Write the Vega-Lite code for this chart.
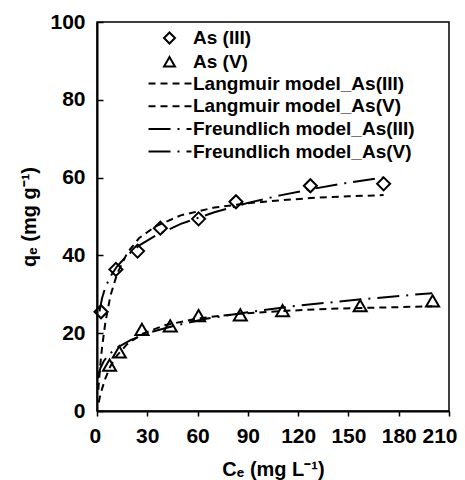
{
  "$schema": "https://vega.github.io/schema/vega-lite/v6.json",
  "width": 352,
  "height": 389,
  "autosize": "none",
  "padding": {"left": 97, "top": 22, "right": 16, "bottom": 69},
  "config": {
    "font": "Liberation Sans",
    "view": {"stroke": "#000", "strokeWidth": 1.5},
    "axis": {
      "grid": false,
      "domainColor": "#000",
      "domainWidth": 2,
      "tickColor": "#000",
      "tickWidth": 1.5,
      "labelFont": "Liberation Sans",
      "labelFontSize": 21,
      "labelFontWeight": "bold",
      "labelColor": "#000",
      "titleFont": "Liberation Sans",
      "titleFontSize": 20,
      "titleFontWeight": "bold",
      "titleColor": "#000"
    },
    "legend": {
      "labelFont": "Liberation Sans",
      "labelFontSize": 19,
      "labelFontWeight": "bold",
      "labelColor": "#000",
      "labelLimit": 400,
      "padding": 0
    }
  },
  "datasets": {
    "points": [
      {"C": 2.4, "q": 25.5, "species": "As (III)"},
      {"C": 11.3, "q": 36.4, "species": "As (III)"},
      {"C": 24.2, "q": 41.1, "species": "As (III)"},
      {"C": 37.8, "q": 47.0, "species": "As (III)"},
      {"C": 60.6, "q": 49.4, "species": "As (III)"},
      {"C": 82.9, "q": 53.8, "species": "As (III)"},
      {"C": 127.3, "q": 57.9, "species": "As (III)"},
      {"C": 171, "q": 58.4, "species": "As (III)"},
      {"C": 7.5, "q": 11.8, "species": "As (V)"},
      {"C": 13.3, "q": 15.2, "species": "As (V)"},
      {"C": 26.8, "q": 21.0, "species": "As (V)"},
      {"C": 43.7, "q": 21.9, "species": "As (V)"},
      {"C": 60.6, "q": 24.5, "species": "As (V)"},
      {"C": 85.5, "q": 24.7, "species": "As (V)"},
      {"C": 110.7, "q": 25.8, "species": "As (V)"},
      {"C": 157, "q": 27.1, "species": "As (V)"},
      {"C": 200.2, "q": 28.3, "species": "As (V)"}
    ],
    "curves": [
      {"C": 0.8, "q": 5.5, "model": "Langmuir model_As(III)"},
      {"C": 1, "q": 6.7, "model": "Langmuir model_As(III)"},
      {"C": 2, "q": 12.0, "model": "Langmuir model_As(III)"},
      {"C": 3, "q": 16.3, "model": "Langmuir model_As(III)"},
      {"C": 5, "q": 22.8, "model": "Langmuir model_As(III)"},
      {"C": 8, "q": 29.6, "model": "Langmuir model_As(III)"},
      {"C": 12, "q": 35.3, "model": "Langmuir model_As(III)"},
      {"C": 18, "q": 40.6, "model": "Langmuir model_As(III)"},
      {"C": 25, "q": 44.4, "model": "Langmuir model_As(III)"},
      {"C": 35, "q": 47.5, "model": "Langmuir model_As(III)"},
      {"C": 50, "q": 50.3, "model": "Langmuir model_As(III)"},
      {"C": 70, "q": 52.3, "model": "Langmuir model_As(III)"},
      {"C": 90, "q": 53.4, "model": "Langmuir model_As(III)"},
      {"C": 110, "q": 54.2, "model": "Langmuir model_As(III)"},
      {"C": 130, "q": 54.8, "model": "Langmuir model_As(III)"},
      {"C": 150, "q": 55.2, "model": "Langmuir model_As(III)"},
      {"C": 171, "q": 55.5, "model": "Langmuir model_As(III)"},
      {"C": 1, "q": 2.2, "model": "Langmuir model_As(V)"},
      {"C": 2, "q": 4.1, "model": "Langmuir model_As(V)"},
      {"C": 3, "q": 5.7, "model": "Langmuir model_As(V)"},
      {"C": 5, "q": 8.4, "model": "Langmuir model_As(V)"},
      {"C": 8, "q": 11.5, "model": "Langmuir model_As(V)"},
      {"C": 12, "q": 14.3, "model": "Langmuir model_As(V)"},
      {"C": 18, "q": 17.2, "model": "Langmuir model_As(V)"},
      {"C": 27, "q": 19.8, "model": "Langmuir model_As(V)"},
      {"C": 40, "q": 22.0, "model": "Langmuir model_As(V)"},
      {"C": 60, "q": 23.8, "model": "Langmuir model_As(V)"},
      {"C": 85, "q": 25.0, "model": "Langmuir model_As(V)"},
      {"C": 110, "q": 25.7, "model": "Langmuir model_As(V)"},
      {"C": 140, "q": 26.3, "model": "Langmuir model_As(V)"},
      {"C": 170, "q": 26.6, "model": "Langmuir model_As(V)"},
      {"C": 200, "q": 26.9, "model": "Langmuir model_As(V)"},
      {"C": 1.5, "q": 25.6, "model": "Freundlich model_As(III)"},
      {"C": 3, "q": 29.0, "model": "Freundlich model_As(III)"},
      {"C": 5, "q": 31.8, "model": "Freundlich model_As(III)"},
      {"C": 8, "q": 34.6, "model": "Freundlich model_As(III)"},
      {"C": 12, "q": 37.2, "model": "Freundlich model_As(III)"},
      {"C": 18, "q": 40.0, "model": "Freundlich model_As(III)"},
      {"C": 25, "q": 42.5, "model": "Freundlich model_As(III)"},
      {"C": 35, "q": 45.1, "model": "Freundlich model_As(III)"},
      {"C": 50, "q": 48.1, "model": "Freundlich model_As(III)"},
      {"C": 70, "q": 51.1, "model": "Freundlich model_As(III)"},
      {"C": 90, "q": 53.5, "model": "Freundlich model_As(III)"},
      {"C": 110, "q": 55.5, "model": "Freundlich model_As(III)"},
      {"C": 130, "q": 57.2, "model": "Freundlich model_As(III)"},
      {"C": 150, "q": 58.7, "model": "Freundlich model_As(III)"},
      {"C": 171, "q": 60.0, "model": "Freundlich model_As(III)"},
      {"C": 0.6, "q": 8.4, "model": "Freundlich model_As(V)"},
      {"C": 1, "q": 9.4, "model": "Freundlich model_As(V)"},
      {"C": 2, "q": 11.0, "model": "Freundlich model_As(V)"},
      {"C": 4, "q": 12.8, "model": "Freundlich model_As(V)"},
      {"C": 7, "q": 14.5, "model": "Freundlich model_As(V)"},
      {"C": 12, "q": 16.3, "model": "Freundlich model_As(V)"},
      {"C": 20, "q": 18.2, "model": "Freundlich model_As(V)"},
      {"C": 30, "q": 20.0, "model": "Freundlich model_As(V)"},
      {"C": 45, "q": 21.8, "model": "Freundlich model_As(V)"},
      {"C": 65, "q": 23.7, "model": "Freundlich model_As(V)"},
      {"C": 90, "q": 25.4, "model": "Freundlich model_As(V)"},
      {"C": 120, "q": 27.1, "model": "Freundlich model_As(V)"},
      {"C": 160, "q": 28.8, "model": "Freundlich model_As(V)"},
      {"C": 200, "q": 30.3, "model": "Freundlich model_As(V)"}
    ]
  },
  "layer": [
    {
      "data": {"name": "curves"},
      "mark": {"type": "line", "color": "#000", "strokeWidth": 2},
      "encoding": {
        "x": {
          "field": "C", "type": "quantitative",
          "scale": {"domain": [0, 210], "nice": false, "zero": true},
          "axis": {"values": [0, 30, 60, 90, 120, 150, 180, 210], "tickSize": 5, "labelPadding": 9, "title": "Cₑ (mg L⁻¹)", "titlePadding": 13, "labelFlush": true, "labelFlushOffset": 8, "labelOverlap": false}
        },
        "y": {
          "field": "q", "type": "quantitative",
          "scale": {"domain": [0, 100], "nice": false},
          "axis": {"values": [0, 20, 40, 60, 80, 100], "tickSize": -6, "labelPadding": 18, "title": "qₑ (mg g⁻¹)", "titlePadding": 10, "labelFlush": false, "labelOverlap": false}
        },
        "strokeDash": {
          "field": "model", "type": "nominal",
          "scale": {
            "domain": ["Langmuir model_As(III)", "Langmuir model_As(V)", "Freundlich model_As(III)", "Freundlich model_As(V)"],
            "range": [[7, 5], [7, 5], [22, 7, 2, 7], [22, 7, 2, 7]]
          },
          "legend": {
            "orient": "none", "legendX": 61, "legendY": 49.5, "title": null,
            "symbolType": "M-2,0H2", "symbolSize": 462, "symbolStrokeWidth": 2,
            "symbolStrokeColor": "#000", "labelOffset": 11, "rowPadding": 0.7
          }
        },
        "order": {"field": "C", "type": "quantitative"}
      }
    },
    {
      "data": {"name": "points"},
      "mark": {"type": "point", "filled": false, "stroke": "#000", "strokeWidth": 2, "size": 170, "opacity": 1},
      "encoding": {
        "x": {"field": "C", "type": "quantitative"},
        "y": {"field": "q", "type": "quantitative"},
        "shape": {
          "field": "species", "type": "nominal",
          "scale": {"domain": ["As (III)", "As (V)"], "range": ["diamond", "triangle-up"]},
          "legend": {
            "orient": "none", "legendX": 63, "legendY": 6.5, "title": null,
            "symbolSize": 120, "symbolStrokeWidth": 2, "symbolStrokeColor": "#000", "symbolFillColor": "transparent",
            "labelOffset": 14, "rowPadding": 3.7
          }
        }
      }
    }
  ]
}
